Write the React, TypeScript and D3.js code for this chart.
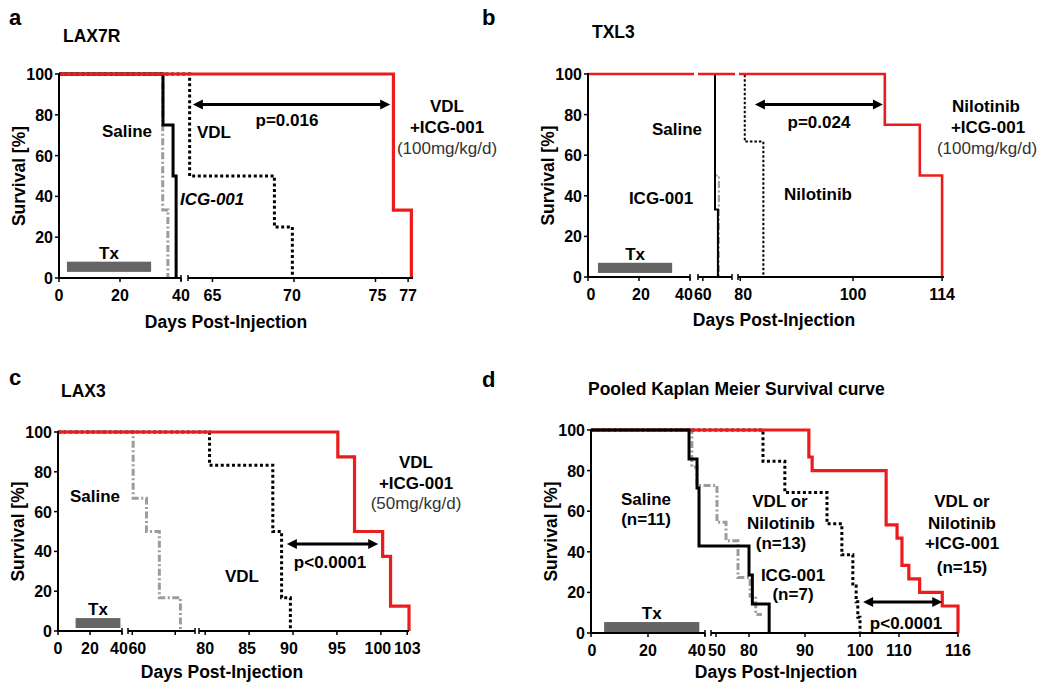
import React from 'react';
import * as d3 from 'd3';

// ================= DATA =================
// Panel a — LAX7R
const A_SALINE_DAYS = [0, 34.0, 35.7];
const A_SALINE_SURV = [100, 33.3, 0];
const A_ICG_DAYS = [0, 34.1, 37.4, 38.4];
const A_ICG_SURV = [100, 75, 50, 0];
const A_VDL_DAYS = [0, 63.6, 68.8, 69.9];
const A_VDL_SURV = [100, 50, 25, 0];
const A_COMBO_DAYS = [0, 76.1, 77.2];
const A_COMBO_SURV = [100, 33.3, 0];
const A_X_TICKS = [0, 20, 40, 65, 70, 75, 77];
const A_X_LABELS = ['0', '20', '40', '65', '70', '75', '77'];
const A_TX_DAYS = [2.6, 30.2];
const A_ARROW_DAYS = [63.8, 75.9];
const A_ARROW_SURV = 85;

// Panel b — TXL3
const B_SALINE_DAYS = [0, 62.5, 63.3];
const B_SALINE_SURV = [100, 50, 0];
const B_ICG_DAYS = [0, 62.5, 63.1];
const B_ICG_SURV = [100, 33.3, 0];
const B_NILO_DAYS = [0, 80.8, 84.1];
const B_NILO_SURV = [100, 66.7, 0];
const B_COMBO_DAYS = [0, 105.0, 110.5, 114.0];
const B_COMBO_SURV = [100, 75, 50, 0];
const B_X_TICKS = [0, 20, 40, 60, 80, 100, 114];
const B_X_LABELS = ['0', '20', '40', '60', '80', '100', '114'];
const B_TX_DAYS = [3.9, 33];
const B_ARROW_DAYS = [82.6, 104.7];
const B_ARROW_SURV = 85;

// Panel c — LAX3
const C_SALINE_DAYS = [0, 60.2, 63.3, 66.3, 71.2];
const C_SALINE_SURV = [100, 66.7, 50, 16.7, 0];
const C_VDL_DAYS = [0, 80.5, 87.7, 88.7, 89.7];
const C_VDL_SURV = [100, 83.3, 50, 16.7, 0];
const C_COMBO_DAYS = [0, 95.1, 97.0, 100.2, 101.1, 103.2];
const C_COMBO_SURV = [100, 87.5, 50, 37.5, 12.5, 0];
const C_X_TICKS = [0, 20, 40, 60, 70, 80, 85, 90, 95, 100, 103];
const C_X_LABELS = ['0', '20', '40', '60', '', '80', '85', '90', '95', '100', '103'];
const C_TX_DAYS = [11, 39];
const C_ARROW_DAYS = [89.3, 99.7];
const C_ARROW_SURV = 43.7;

// Panel d — pooled
const D_SALINE_DAYS = [0, 35.4, 37.2, 50.9, 59.1, 70.0, 80.2, 81.2];
const D_SALINE_SURV = [100, 81.8, 72.7, 54.5, 45.5, 27.3, 18.2, 9.1];
const D_SALINE_END = 82.3;
const D_ICG_DAYS = [0, 34.4, 37.2, 37.9, 80.0, 80.6, 83.6];
const D_ICG_SURV = [100, 85.7, 71.4, 42.9, 28.6, 14.3, 0];
const D_MONO_DAYS = [0, 82.5, 86.4, 94.0, 96.7, 98.7, 99.3, 99.6, 100.0];
const D_MONO_SURV = [100, 84.6, 69.2, 53.8, 38.5, 23.1, 15.4, 7.7, 0];
const D_COMBO_DAYS = [0, 90.7, 91.3, 106.7, 109.5, 110.3, 111.0, 112.1, 114.4, 116.0];
const D_COMBO_SURV = [100, 86.7, 80, 53.3, 46.7, 33.3, 26.7, 20, 13.3, 0];
const D_X_TICKS = [0, 20, 40, 50, 80, 90, 100, 110, 116];
const D_X_LABELS = ['0', '20', '40', '50', '80', '90', '100', '110', '116'];
const D_TX_DAYS = [4.6, 38];
const D_ARROW_DAYS = [100.8, 114.4];
const D_ARROW_SURV = 15.3;

const Y_TICKS = [0, 20, 40, 60, 80, 100];

// ================= STYLE / LAYOUT =================
const FONT = "'Liberation Sans', Arial, Helvetica, sans-serif";
const RED = '#ec1c1c';
const GRAY = '#9c9c9c';

type Seg = { domain: number[]; range: number[] };
type Curve = { days: number[]; surv: number[]; end?: number; kind: 'red' | 'black' | 'dotted' | 'gray' };
type Txt = { t: string; x: number; y: number; a?: 'start' | 'middle' | 'end'; w?: string; it?: boolean; fill?: string; size?: number };

type PanelCfg = {
  letter: string; letterX: number; letterY: number;
  title: string; titleX: number; titleY: number;
  left: number; top: number; bottom: number;
  segs: Seg[];
  ticks: number[]; labels: string[]; labelDx: number[];
  curves: Curve[];
  thin?: boolean;
  topGaps?: boolean;
  tx: number[]; txSurv: number[];
  arrow: number[]; arrowSurv: number;
  xTitleX: number; xTitleDy: number;
  texts: Txt[];
};

const panels: PanelCfg[] = [
  {
    letter: 'a', letterX: 9, letterY: 25, title: 'LAX7R', titleX: 63, titleY: 42,
    left: 59, top: 74, bottom: 278,
    segs: [{ domain: [0, 40], range: [59, 181] }, { domain: [63.5, 77.3], range: [188, 413] }],
    ticks: A_X_TICKS, labels: A_X_LABELS, labelDx: [0, 0, 0, 0, -2, 2, 0],
    curves: [
      { days: A_SALINE_DAYS, surv: A_SALINE_SURV, kind: 'gray' },
      { days: A_ICG_DAYS, surv: A_ICG_SURV, kind: 'black' },
      { days: A_VDL_DAYS, surv: A_VDL_SURV, kind: 'dotted' },
      { days: A_COMBO_DAYS, surv: A_COMBO_SURV, kind: 'red' },
    ],
    tx: A_TX_DAYS, txSurv: [3, 8], arrow: A_ARROW_DAYS, arrowSurv: A_ARROW_SURV,
    xTitleX: 226, xTitleDy: 50,
    texts: [
      { t: 'Saline', x: 152, y: 137, a: 'end' },
      { t: 'VDL', x: 197, y: 138, a: 'start' },
      { t: 'ICG-001', x: 180, y: 205, a: 'start', it: true },
      { t: 'p=0.016', x: 287, y: 126 },
      { t: 'VDL', x: 447, y: 112 },
      { t: '+ICG-001', x: 447, y: 133 },
      { t: '(100mg/kg/d)', x: 447, y: 154, w: 'normal', fill: '#333' },
    ],
  },
  {
    letter: 'b', letterX: 482, letterY: 25, title: 'TXL3', titleX: 592, titleY: 38,
    left: 588, top: 74, bottom: 277,
    segs: [
      { domain: [0, 40], range: [588, 690] },
      { domain: [59, 66], range: [698, 732] },
      { domain: [79.6, 100, 114.3], range: [738, 853, 944] },
    ],
    ticks: B_X_TICKS, labels: B_X_LABELS, labelDx: [3, 2, -6, 0, 3, 0, 0],
    thin: true, topGaps: true,
    curves: [
      { days: B_SALINE_DAYS, surv: B_SALINE_SURV, kind: 'gray' },
      { days: B_ICG_DAYS, surv: B_ICG_SURV, kind: 'black' },
      { days: B_NILO_DAYS, surv: B_NILO_SURV, kind: 'dotted' },
      { days: B_COMBO_DAYS, surv: B_COMBO_SURV, kind: 'red' },
    ],
    tx: B_TX_DAYS, txSurv: [2, 7], arrow: B_ARROW_DAYS, arrowSurv: B_ARROW_SURV,
    xTitleX: 774, xTitleDy: 49,
    texts: [
      { t: 'Saline', x: 677, y: 135 },
      { t: 'ICG-001', x: 661, y: 204 },
      { t: 'Nilotinib', x: 818, y: 200 },
      { t: 'p=0.024', x: 819, y: 128 },
      { t: 'Nilotinib', x: 986, y: 112 },
      { t: '+ICG-001', x: 988, y: 133 },
      { t: '(100mg/kg/d)', x: 987, y: 154, w: 'normal', fill: '#333' },
    ],
  },
  {
    letter: 'c', letterX: 9, letterY: 385, title: 'LAX3', titleX: 61, titleY: 397,
    left: 58, top: 432, bottom: 631,
    segs: [
      { domain: [0, 40], range: [58, 122] },
      { domain: [59, 74.6], range: [128, 195] },
      { domain: [79.3, 103.2], range: [199, 409] },
    ],
    ticks: C_X_TICKS, labels: C_X_LABELS, labelDx: [0, 0, -3, 5, 0, 0, -2, -4, 0, -3, 0],
    curves: [
      { days: C_SALINE_DAYS, surv: C_SALINE_SURV, kind: 'gray' },
      { days: C_VDL_DAYS, surv: C_VDL_SURV, kind: 'dotted' },
      { days: C_COMBO_DAYS, surv: C_COMBO_SURV, kind: 'red' },
    ],
    tx: C_TX_DAYS, txSurv: [1.5, 6.5], arrow: C_ARROW_DAYS, arrowSurv: C_ARROW_SURV,
    xTitleX: 222, xTitleDy: 47,
    texts: [
      { t: 'Saline', x: 95, y: 502 },
      { t: 'VDL', x: 242, y: 582 },
      { t: 'p<0.0001', x: 330, y: 568 },
      { t: 'VDL', x: 416, y: 468 },
      { t: '+ICG-001', x: 416, y: 489 },
      { t: '(50mg/kg/d)', x: 416, y: 509, w: 'normal', fill: '#333' },
    ],
  },
  {
    letter: 'd', letterX: 482, letterY: 387, title: 'Pooled Kaplan Meier Survival curve', titleX: 588, titleY: 395,
    left: 591, top: 430, bottom: 633,
    segs: [
      { domain: [0, 40], range: [591, 705] },
      { domain: [48, 50, 80, 90, 100, 110, 116], range: [711, 716, 749, 805, 860, 899, 958] },
    ],
    ticks: D_X_TICKS, labels: D_X_LABELS, labelDx: [1, 0, -8, 1, 0, 0, 0, 0, 0],
    curves: [
      { days: D_SALINE_DAYS, surv: D_SALINE_SURV, end: D_SALINE_END, kind: 'gray' },
      { days: D_MONO_DAYS, surv: D_MONO_SURV, kind: 'dotted' },
      { days: D_COMBO_DAYS, surv: D_COMBO_SURV, kind: 'red' },
      { days: D_ICG_DAYS, surv: D_ICG_SURV, kind: 'black' },
    ],
    tx: D_TX_DAYS, txSurv: [0.5, 5.4], arrow: D_ARROW_DAYS, arrowSurv: D_ARROW_SURV,
    xTitleX: 776, xTitleDy: 45,
    texts: [
      { t: 'Saline', x: 646, y: 505 },
      { t: '(n=11)', x: 646, y: 525 },
      { t: 'VDL or', x: 780, y: 507 },
      { t: 'Nilotinib', x: 781, y: 529 },
      { t: '(n=13)', x: 781, y: 549 },
      { t: 'ICG-001', x: 793, y: 581 },
      { t: '(n=7)', x: 793, y: 600 },
      { t: 'p<0.0001', x: 906, y: 629 },
      { t: 'VDL or', x: 962, y: 507 },
      { t: 'Nilotinib', x: 962, y: 529 },
      { t: '+ICG-001', x: 962, y: 549 },
      { t: '(n=15)', x: 962, y: 573 },
    ],
  },
];

function makeX(segs: Seg[]) {
  const scales = segs.map((s) => ({ d: s.domain, sc: d3.scaleLinear().domain(s.domain).range(s.range) }));
  return (v: number) => {
    for (const s of scales) {
      if (v >= s.d[0] - 1e-9 && v <= s.d[s.d.length - 1] + 1e-9) return s.sc(v);
    }
    for (const s of scales) if (v < s.d[0]) return s.sc(s.d[0]);
    const last = scales[scales.length - 1];
    return last.sc(v);
  };
}

function curveStyle(kind: string, thin?: boolean) {
  const w = thin ? 2 : 3;
  switch (kind) {
    case 'red':
      return { stroke: RED, strokeWidth: thin ? 2.6 : 3.2 };
    case 'black':
      return { stroke: '#000', strokeWidth: w };
    case 'dotted':
      return { stroke: '#000', strokeWidth: w, strokeDasharray: thin ? '2.5,2' : '3,2.6' };
    default:
      return { stroke: GRAY, strokeWidth: w, strokeDasharray: '7,2.5,2,2.5' };
  }
}

function Panel({ cfg }: { cfg: PanelCfg }) {
  const x = makeX(cfg.segs);
  const y = d3.scaleLinear().domain([0, 100]).range([cfg.bottom, cfg.top]);
  const line = d3
    .line<[number, number]>()
    .x((d) => x(d[0]))
    .y((d) => y(d[1]))
    .curve(d3.curveStepAfter);
  const y0 = y(0);
  const txtBase = { fontFamily: FONT, fontSize: 17, fontWeight: 'bold' as const };

  const arrowY = y(cfg.arrowSurv);
  const ax1 = x(cfg.arrow[0]);
  const ax2 = x(cfg.arrow[1]);
  const hl = 10, hw = 5;

  return (
    <g>
      <text x={cfg.letterX} y={cfg.letterY} style={{ fontFamily: FONT, fontSize: 22, fontWeight: 'bold' }}>{cfg.letter}</text>
      <text x={cfg.titleX} y={cfg.titleY} style={{ ...txtBase, fontSize: 17.5 }}>{cfg.title}</text>

      {/* Treatment bar */}
      <rect
        x={x(cfg.tx[0])}
        y={y(cfg.txSurv[1])}
        width={x(cfg.tx[1]) - x(cfg.tx[0])}
        height={y(cfg.txSurv[0]) - y(cfg.txSurv[1])}
        fill="#656565"
      />
      <text x={(x(cfg.tx[0]) + x(cfg.tx[1])) / 2} y={y(cfg.txSurv[1]) - 3} textAnchor="middle" style={txtBase}>Tx</text>

      {/* curves */}
      {cfg.curves.map((c, i) => {
        const pts: [number, number][] = c.days.map((d, j) => [d, c.surv[j]]);
        if (c.end != null) pts.push([c.end, c.surv[c.surv.length - 1]]);
        return <path key={i} d={line(pts) || ''} fill="none" {...curveStyle(c.kind, cfg.thin)} />;
      })}

      {/* gaps in top line at axis breaks */}
      {cfg.topGaps &&
        cfg.segs.slice(0, -1).map((s, i) => {
          const gx = (s.range[s.range.length - 1] + cfg.segs[i + 1].range[0]) / 2 + 2;
          return <rect key={i} x={gx - 2} y={y(100) - 3} width={4} height={6} fill="#fff" />;
        })}

      {/* Y axis */}
      <line x1={cfg.left} x2={cfg.left} y1={y(0) + 1} y2={y(100) - 1} stroke="#000" strokeWidth={2} />
      {Y_TICKS.map((t) => (
        <g key={t}>
          <line x1={cfg.left - 4} x2={cfg.left} y1={y(t)} y2={y(t)} stroke="#000" strokeWidth={1.5} />
          <text x={cfg.left - 6} y={y(t) + 6} textAnchor="end" style={{ ...txtBase, fontSize: 16 }}>{t}</text>
        </g>
      ))}

      {/* X axis segments */}
      {cfg.segs.map((s, i) => (
        <g key={i}>
          <line x1={s.range[0] - (i === 0 ? 1 : 0)} x2={s.range[s.range.length - 1]} y1={y0} y2={y0} stroke="#000" strokeWidth={2} />
          {i > 0 && <line x1={s.range[0]} x2={s.range[0]} y1={y0 - 3} y2={y0 + 3} stroke="#000" strokeWidth={1.5} />}
          {i < cfg.segs.length - 1 && (
            <line x1={s.range[s.range.length - 1]} x2={s.range[s.range.length - 1]} y1={y0 - 3} y2={y0 + 3} stroke="#000" strokeWidth={1.5} />
          )}
        </g>
      ))}
      {cfg.ticks.map((t, i) => (
        <g key={i}>
          <line x1={x(t)} x2={x(t)} y1={y0} y2={y0 + 4} stroke="#000" strokeWidth={1.5} />
          <text x={x(t) + (cfg.labelDx[i] || 0)} y={y0 + 23} textAnchor="middle" style={{ ...txtBase, fontSize: 16 }}>{cfg.labels[i]}</text>
        </g>
      ))}

      <text x={cfg.xTitleX} y={y0 + cfg.xTitleDy} textAnchor="middle" style={{ ...txtBase, fontSize: 17.5 }}>Days Post-Injection</text>
      <text
        transform={`translate(${cfg.left - 34},${(y(0) + y(100)) / 2}) rotate(-90)`}
        textAnchor="middle"
        style={{ ...txtBase, fontSize: 17.5 }}
      >
        Survival [%]
      </text>

      {/* double arrow */}
      <line x1={ax1 + hl - 1} x2={ax2 - hl + 1} y1={arrowY} y2={arrowY} stroke="#000" strokeWidth={3} />
      <path d={`M${ax1},${arrowY}L${ax1 + hl},${arrowY - hw}L${ax1 + hl},${arrowY + hw}Z`} fill="#000" />
      <path d={`M${ax2},${arrowY}L${ax2 - hl},${arrowY - hw}L${ax2 - hl},${arrowY + hw}Z`} fill="#000" />

      {cfg.texts.map((t, i) => (
        <text
          key={i}
          x={t.x}
          y={t.y}
          textAnchor={t.a || 'middle'}
          fill={t.fill || '#000'}
          style={{ ...txtBase, fontWeight: (t.w as any) || 'bold', fontStyle: t.it ? 'italic' : 'normal', fontSize: t.size || 17 }}
        >
          {t.t}
        </text>
      ))}
    </g>
  );
}

export default function App() {
  return (
    <svg width={1050} height={690} style={{ position: 'absolute', left: 0, top: 0, background: '#fff' }}>
      <rect width={1050} height={690} fill="#fff" />
      {panels.map((p, i) => (
        <Panel key={i} cfg={p} />
      ))}
    </svg>
  );
}
